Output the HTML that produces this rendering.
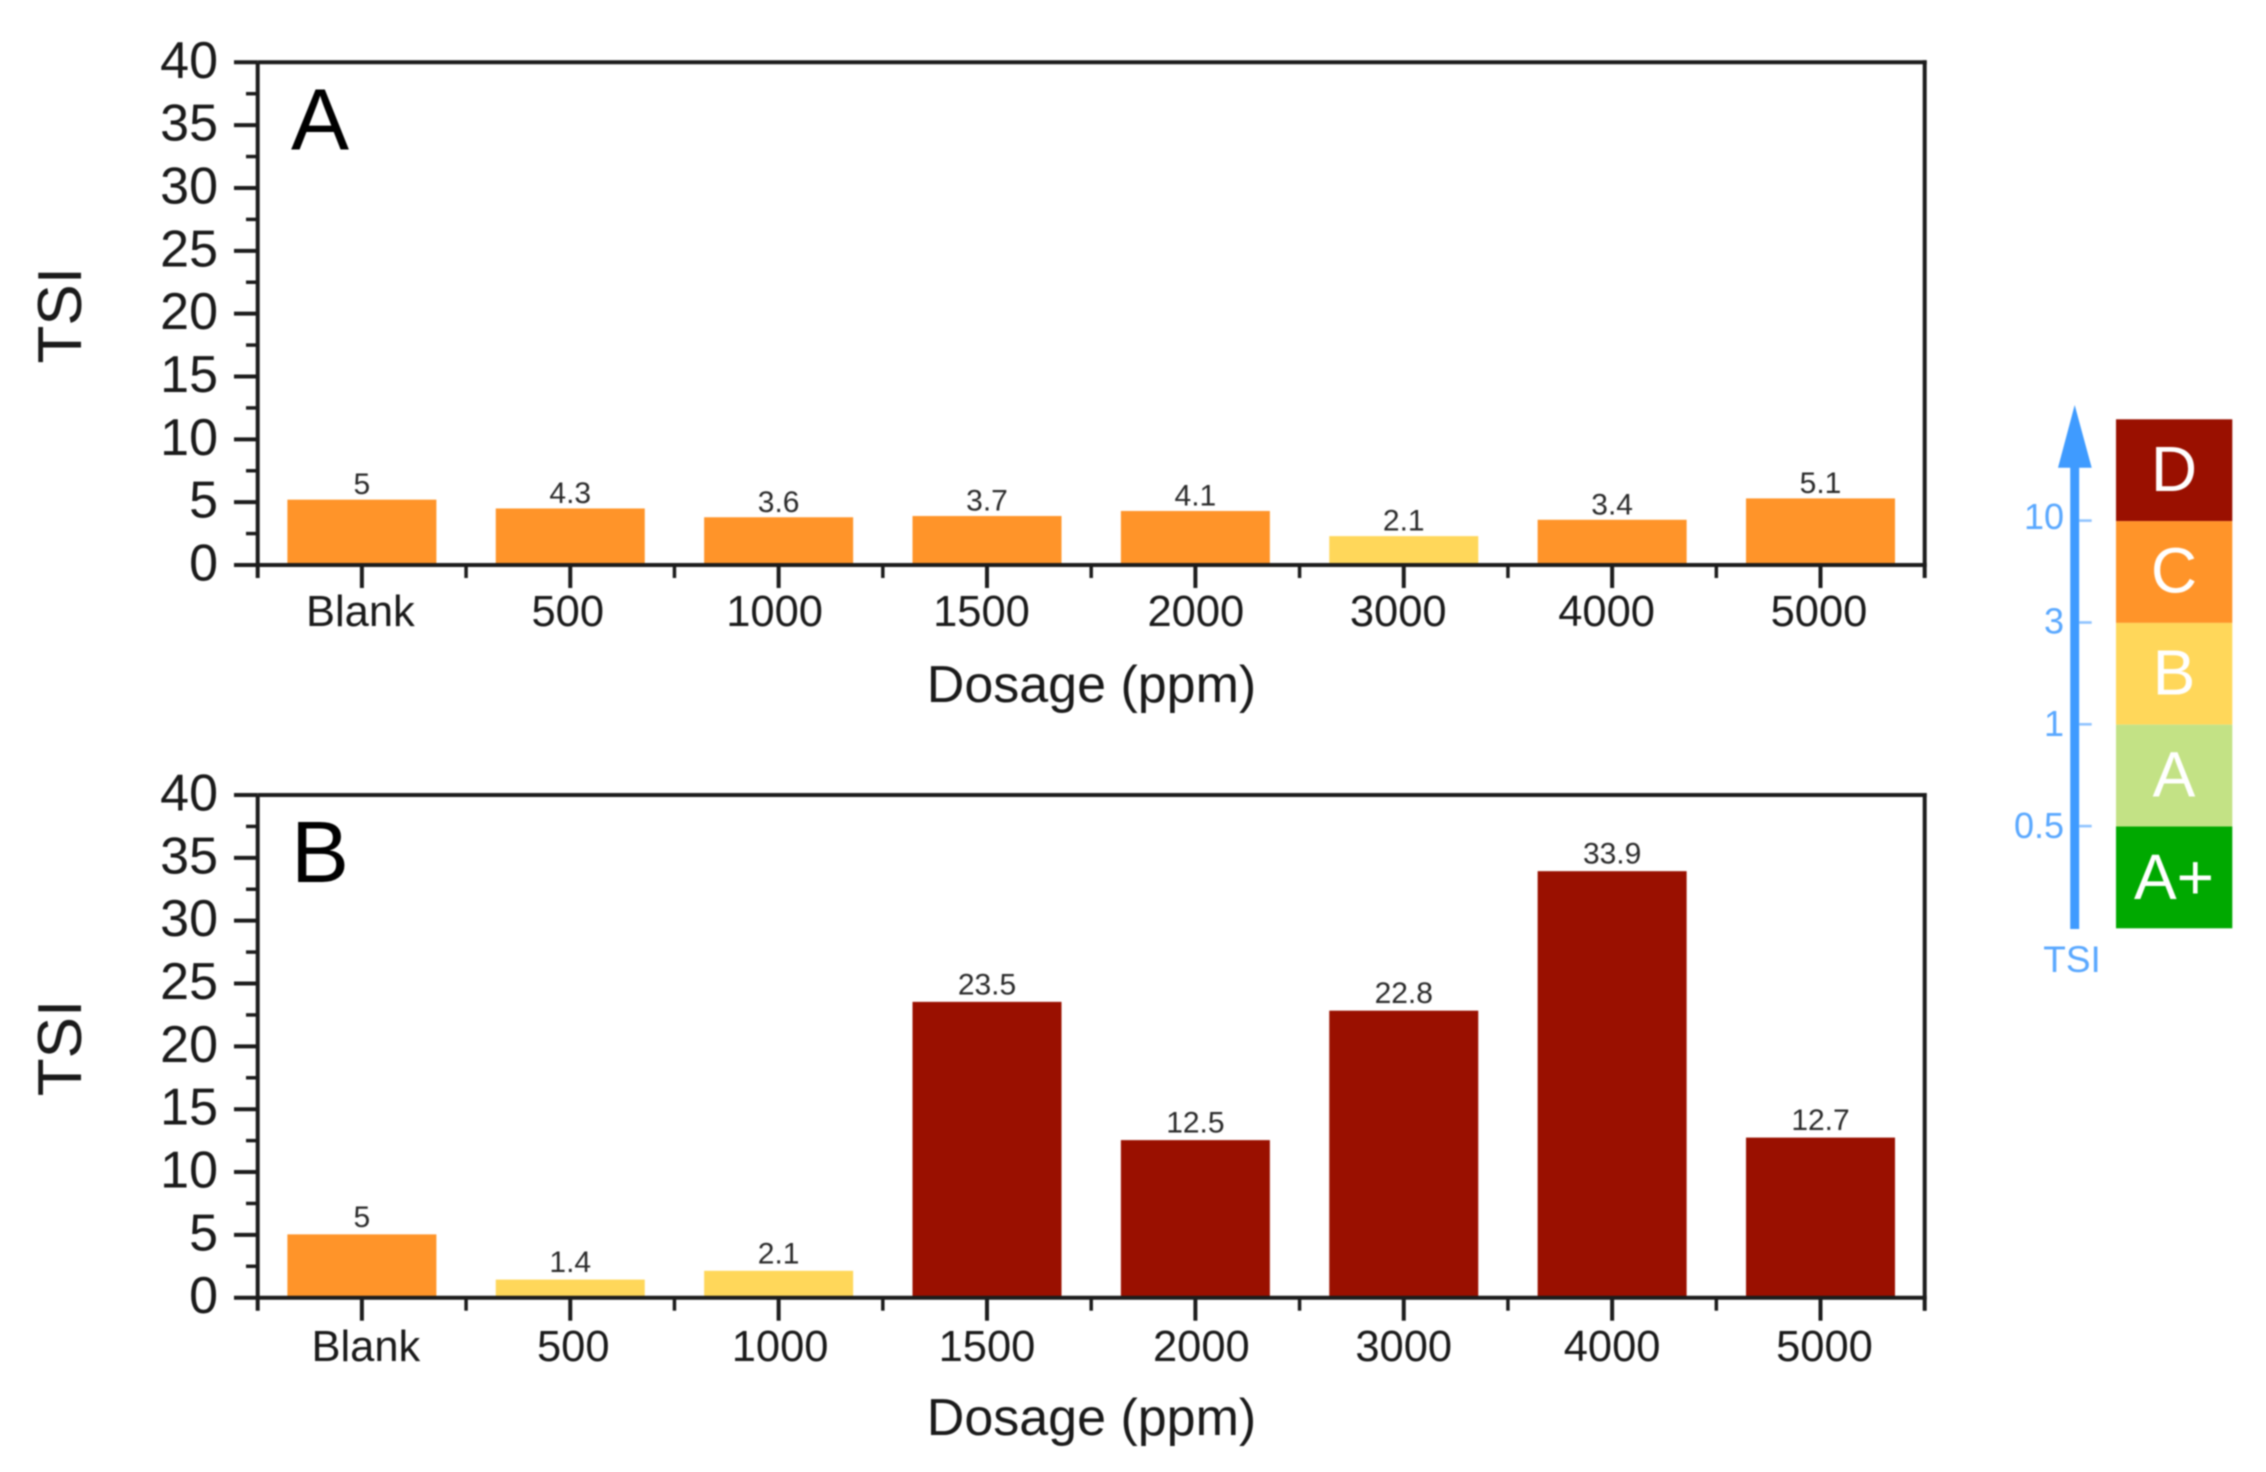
<!DOCTYPE html>
<html lang="en">
<head>
<meta charset="utf-8">
<title>TSI versus dosage</title>
<style>
html,body{margin:0;padding:0;background:#fff;}
svg{display:block;filter:blur(0.7px);}
text{font-family:"Liberation Sans",Arial,sans-serif;}
</style>
</head>
<body>
<svg id="figure" xmlns="http://www.w3.org/2000/svg" width="2266" height="1472" viewBox="0 0 2266 1472">
  <rect x="0" y="0" width="2266" height="1472" fill="#ffffff"/>
  <g id="panels"></g>
  <g>
    <g fill="#3f9bff">
      <rect x="2070.2" y="460" width="9" height="469"/>
      <polygon points="2074.7,405 2091.7,467.7 2058,467.7"/>
      <rect x="2079" y="519.3" width="12.7" height="2.6" fill="#8fc3ff"/>
      <rect x="2079" y="621.2" width="12.7" height="2.6" fill="#8fc3ff"/>
      <rect x="2079" y="723" width="12.7" height="2.6" fill="#8fc3ff"/>
      <rect x="2079" y="824.8" width="12.7" height="2.6" fill="#8fc3ff"/>
    </g>
    <g fill="#5aa8ff" font-size="36" text-anchor="end">
      <text x="2064" y="529">10</text>
      <text x="2064" y="633.5">3</text>
      <text x="2064" y="736">1</text>
      <text x="2064" y="838">0.5</text>
    </g>
    <text x="2072" y="972" fill="#5aa8ff" font-size="37" text-anchor="middle">TSI</text>
    <rect x="2116" y="419.3" width="116.3" height="101.8" fill="#9a1000"/>
    <rect x="2116" y="521.1" width="116.3" height="101.8" fill="#ff9429"/>
    <rect x="2116" y="622.9" width="116.3" height="101.8" fill="#ffd75a"/>
    <rect x="2116" y="724.7" width="116.3" height="101.8" fill="#c3e285"/>
    <rect x="2116" y="826.5" width="116.3" height="101.8" fill="#00a900"/>
    <g fill="#ffffff" font-size="64" text-anchor="middle">
      <text x="2174" y="491">D</text>
      <text x="2174" y="592.5">C</text>
      <text x="2174" y="694.5">B</text>
      <text x="2174" y="796.5">A</text>
      <text x="2174" y="899">A+</text>
    </g>
  </g>
</svg>
<script>
const categoriesA = ['Blank', '500', '1000', '1500', '2000', '3000', '4000', '5000'];
const valuesA = [5, 4.3, 3.6, 3.7, 4.1, 2.1, 3.4, 5.1];
const categoriesB = ['Blank', '500', '1000', '1500', '2000', '3000', '4000', '5000'];
const valuesB = [5, 1.4, 2.1, 23.5, 12.5, 22.8, 33.9, 12.7];
const yTickLabels = [0, 5, 10, 15, 20, 25, 30, 35, 40];
const yMinorTicks = [2.5, 7.5, 12.5, 17.5, 22.5, 27.5, 32.5, 37.5];
const yMax = 40;

const NS = 'http://www.w3.org/2000/svg';
const panelsRoot = document.getElementById('panels');
const LEFT = 257.7;
const RIGHT = 1924.7;
const AXIS_COLOR = '#1c1c1c';

function ratingColor(v) {
  if (v < 1) return '#c3e285';
  if (v < 3) return '#ffd75a';
  if (v < 10) return '#ff9429';
  return '#9a1000';
}

// hand-placed tick labels in the source figure sit slightly off their category centres
function labelNudge(i) {
  if (i === 4) return 2;
  if (i === 3 || i === 5 || i === 6) return -4;
  if (i === 2) return -2.5;
  if (i === 1) return -1;
  return 0;
}

function make(tag, parent) {
  const el = document.createElementNS(NS, tag);
  parent.appendChild(el);
  return el;
}

function drawLine(el, x1, y1, x2, y2, width) {
  el.setAttribute('x1', x1);
  el.setAttribute('y1', y1);
  el.setAttribute('x2', x2);
  el.setAttribute('y2', y2);
  el.setAttribute('stroke', AXIS_COLOR);
  el.setAttribute('stroke-width', width);
}

function drawText(el, x, y, size, anchor, str) {
  el.setAttribute('x', x);
  el.setAttribute('y', y);
  el.setAttribute('font-size', size);
  el.setAttribute('text-anchor', anchor);
  el.setAttribute('fill', '#1a1a1a');
  el.textContent = str;
}

function drawPanel(key, letter, categories, values, top, bottom, labelDx, labelBaseline, titleBaseline, letterX, barLift) {
  const yScale = v => bottom - (v / yMax) * (bottom - top);
  const band = (RIGHT - LEFT) / categories.length;
  const xScale = i => LEFT + band * (i + 0.5);

  const g = make('g', panelsRoot);
  
  

  values.forEach((v, i) => {
    const barTop = yScale(v) - barLift;
    const bar = make('rect', g);
    
    
    bar.setAttribute('x', xScale(i) - 74.5);
    bar.setAttribute('y', barTop);
    bar.setAttribute('width', 149);
    bar.setAttribute('height', bottom - barTop);
    bar.setAttribute('fill', ratingColor(v));

    const val = make('text', g);
    
    
    drawText(val, xScale(i), yScale(v) - 8, 30, 'middle', String(v));
    val.setAttribute('fill', '#2a2a2a');
  });

  const leftAxis = make('line', g);
  
  
  drawLine(leftAxis, LEFT, top, LEFT, bottom + 13, 4);

  const rightAxis = make('line', g);
  
  
  drawLine(rightAxis, RIGHT, top - 2, RIGHT, bottom + 13, 4);

  const topAxis = make('line', g);
  
  
  drawLine(topAxis, LEFT, top, RIGHT + 2, top, 4);

  const bottomAxis = make('line', g);
  
  
  drawLine(bottomAxis, LEFT, bottom, RIGHT + 2, bottom, 4);

  yTickLabels.forEach(t => {
    const tick = make('line', g);
    
    
    drawLine(tick, 234, yScale(t), LEFT, yScale(t), 4);

    const lab = make('text', g);
    
    
    drawText(lab, 218, yScale(t) + 15.5, 52, 'end', String(t));
  });

  yMinorTicks.forEach(t => {
    const tick = make('line', g);
    
    
    drawLine(tick, 246, yScale(t), LEFT, yScale(t), 3.5);
  });

  categories.forEach((c, i) => {
    const tick = make('line', g);
    
    
    drawLine(tick, xScale(i), bottom, xScale(i), bottom + 23, 4);

    const minor = make('line', g);
    
    
    drawLine(minor, LEFT + band * (i + 1), bottom, LEFT + band * (i + 1), bottom + 13, 3.5);

    const lab = make('text', g);
    
    
    drawText(lab, xScale(i) + labelDx + labelNudge(i), labelBaseline, 43.5, 'middle', c);
  });

  const xTitle = make('text', g);
  
  
  drawText(xTitle, 1091.5, titleBaseline, 52, 'middle', 'Dosage (ppm)');

  const yTitle = make('text', g);
  
  
  const cy = top + 253;
  drawText(yTitle, 0, 0, 62, 'middle', 'TSI');
  yTitle.setAttribute('transform', 'translate(81 ' + cy + ') rotate(-90)');

  const tag = make('text', g);
  
  
  drawText(tag, letterX, top + 87, 87, 'start', letter);
  tag.setAttribute('fill', '#000000');
}

drawPanel('a', 'A', categoriesA, valuesA, 62.3, 565, -1.5, 626, 702, 291, 2.5);
drawPanel('b', 'B', categoriesB, valuesB, 795, 1297.7, 4, 1361, 1435, 291, 0.5);
</script>
</body>
</html>
